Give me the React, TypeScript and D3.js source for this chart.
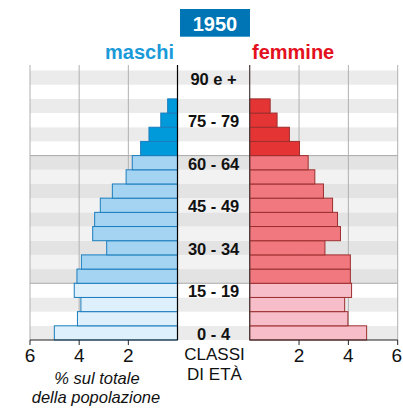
import * as d3 from "d3";

const ages = [
  "0 - 4", "5 - 9", "10 - 14", "15 - 19", "20 - 24", "25 - 29", "30 - 34",
  "35 - 39", "40 - 44", "45 - 49", "50 - 54", "55 - 59", "60 - 64",
  "65 - 69", "70 - 74", "75 - 79", "80 - 84", "85 - 89", "90 e +",
];
const maschi = [5.01, 4.07, 3.93, 4.2, 4.09, 3.91, 2.88, 3.45, 3.37, 3.14, 2.65, 2.09, 1.84, 1.5, 1.16, 0.68, 0.4, 0, 0];
const femmine = [4.74, 3.98, 3.85, 4.13, 4.08, 4.08, 3.05, 3.68, 3.56, 3.36, 2.99, 2.64, 2.37, 2.02, 1.61, 1.11, 0.83, 0, 0];
const labelled = ["0 - 4", "15 - 19", "30 - 34", "45 - 49", "60 - 64", "75 - 79", "90 e +"];
const ticks = [2, 4, 6];

const font = "'Liberation Sans', Arial, sans-serif";

// 0-19 giovani, 20-64 adulti, 65+ anziani
function group(i: number) {
  return i < 4 ? 0 : i < 13 ? 1 : 2;
}
const blueFill = ["#def0fc", "#a5d4f3", "#0099da"];
const redFill = ["#f7bdc8", "#f0787e", "#e53434"];
const bandFill = [
  ["#ebebeb", "#ffffff"],
  ["#e3e3e3", "#f2f2f2"],
  ["#ebebeb", "#ffffff"],
];

export default function App() {
  const top = 70.5;
  const bottom = 340;
  const left = 30;
  const right = 397.7;

  const y = d3.scaleBand<string>().domain([...ages].reverse()).range([top, bottom]).padding(0);
  const xL = d3.scaleLinear().domain([0, 6]).range([177.5, 30]);
  const xR = d3.scaleLinear().domain([0, 6]).range([249.7, 397.7]);
  const h = y.bandwidth();

  return (
    <svg width={403} height={409} style={{ position: "absolute", left: 0, top: 0 }} fontFamily={font}>
      {/* bande */}
      {ages.map((a, i) => (
        <rect key={a} x={left} y={y(a)} width={right - left} height={h}
          fill={bandFill[group(i)][i % 2]} />
      ))}
      {[ages[4], ages[13]].map((a) => (
        <line key={a} x1={left} x2={right} y1={(y(a) as number) + h} y2={(y(a) as number) + h}
          stroke="#a8a8a8" strokeWidth={1} />
      ))}
      {/* griglia */}
      {ticks.map((t) => (
        <g key={t}>
          <line x1={xL(t)} x2={xL(t)} y1={65} y2={bottom} stroke="#b0b0b0" />
          <line x1={xR(t)} x2={xR(t)} y1={65} y2={bottom} stroke="#b0b0b0" />
        </g>
      ))}
      {/* barre */}
      {ages.map((a, i) => (
        <g key={a}>
          {maschi[i] > 0 && (
            <rect x={xL(maschi[i])} y={y(a)} width={xL(0) - xL(maschi[i])} height={h}
              fill={blueFill[group(i)]} stroke="#1a7dbd" strokeWidth={1} />
          )}
          {femmine[i] > 0 && (
            <rect x={xR(0)} y={y(a)} width={xR(femmine[i]) - xR(0)} height={h}
              fill={redFill[group(i)]} stroke="#9c2f2f" strokeWidth={1} />
          )}
        </g>
      ))}
      <line x1={xL(0)} x2={xL(0)} y1={65} y2={bottom} stroke="#000" strokeWidth={1.2} />
      <line x1={xR(0)} x2={xR(0)} y1={65} y2={bottom} stroke="#4a3a3a" strokeWidth={1.2} />
      {/* classi di età */}
      {labelled.map((a) => (
        <text key={a} x={213.6} y={(y(a) as number) + h / 2 + 7} textAnchor="middle"
          fontSize={16.5} fontWeight="bold" fill="#111">{a}</text>
      ))}
      {/* assi */}
      <line x1={xL(6)} x2={xL(0)} y1={bottom} y2={bottom} stroke="#222" />
      <line x1={xR(0)} x2={xR(6)} y1={bottom} y2={bottom} stroke="#222" />
      {ticks.map((t) => (
        <g key={t} fontSize={19} fill="#111" textAnchor="middle">
          <line x1={xL(t)} x2={xL(t)} y1={bottom} y2={bottom + 5} stroke="#222" />
          <line x1={xR(t)} x2={xR(t)} y1={bottom} y2={bottom + 5} stroke="#222" />
          <text x={xL(t)} y={362}>{t}</text>
          <text x={xR(t) - (t === 6 ? 1 : 0)} y={362}>{t}</text>
        </g>
      ))}
      <text x={214.5} y={360} textAnchor="middle" fontSize={17} fill="#111">CLASSI</text>
      <text x={214.5} y={379.5} textAnchor="middle" fontSize={17} fill="#111">DI ETÀ</text>
      <text x={97} y={383.5} textAnchor="middle" fontSize={16.5} fontStyle="italic" fill="#111">% sul totale</text>
      <text x={96} y={402.5} textAnchor="middle" fontSize={16.5} fontStyle="italic" fill="#111">della popolazione</text>
      {/* titolo */}
      <rect x={180} y={9} width={70} height={27.7} fill="#0075b5" />
      <text x={215} y={30.5} textAnchor="middle" fontSize={20} fontWeight="bold" fill="#fff">1950</text>
      <text x={174} y={59} textAnchor="end" fontSize={20} fontWeight="bold" fill="#1a9ad9">maschi</text>
      <text x={252} y={59} fontSize={20} fontWeight="bold" fill="#e3101d">femmine</text>
    </svg>
  );
}
